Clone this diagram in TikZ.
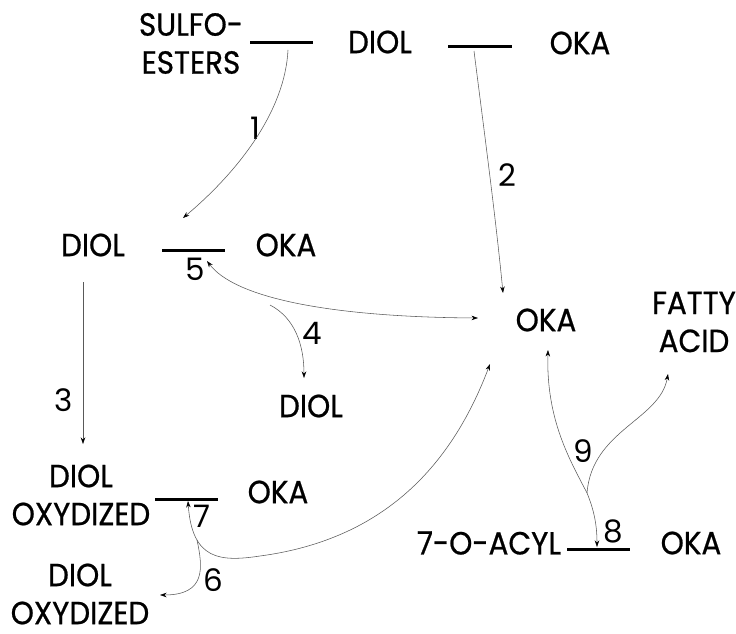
\documentclass[tikz,border=0pt]{standalone}
\usepackage{fontspec}
\setmainfont{Poppins}
\newfontfamily\labelfont{Poppins}[FakeBold=0.7,FakeStretch=0.92]
\usetikzlibrary{arrows.meta}
\begin{document}
\begin{tikzpicture}[x=1pt,y=-1pt,
  lbl/.style={font=\labelfont\fontsize{32}{38}\selectfont, inner sep=0pt, align=center},
  num/.style={font=\fontsize{31}{34}\selectfont, inner sep=0pt},
  bond/.style={line width=3pt},
  link/.style={draw=black!65, line width=0.55pt},
  tipend/.style={-{Stealth[length=6.5pt,width=4.5pt,color=black]}},
  tipboth/.style={{Stealth[length=6.5pt,width=4.5pt,color=black]}-{Stealth[length=6.5pt,width=4.5pt,color=black]}},
]
\path[use as bounding box] (0,0) rectangle (736,634);

% compounds
\node[lbl] (sulfo) at (191,43.5) {SULFO-\\ESTERS};
\node[lbl] (diolA) at (380,42) {DIOL};
\node[lbl] (okaA)  at (580,43) {OKA};
\node[lbl] (diolB) at (93,245) {DIOL};
\node[lbl] (okaB)  at (286,245) {OKA};
\node[lbl] (okaC)  at (546,320) {OKA};
\node[lbl] (fatty) at (694,322) {FATTY\\ACID};
\node[lbl] (diolC) at (311,406) {DIOL};
\node[lbl] (oxyA)  at (81,495) {DIOL\\OXYDIZED};
\node[lbl] (okaD)  at (278,492) {OKA};
\node[lbl] (oxyB)  at (80,594) {DIOL\\OXYDIZED};
\node[lbl] (acyl)  at (489,543) {7-O-ACYL};
\node[lbl] (okaE)  at (691,543) {OKA};

% bonds
\coordinate (b1l) at (250,43);  \coordinate (b1r) at (313,43);
\coordinate (b2l) at (448,47);  \coordinate (b2r) at (512,47);
\coordinate (b3l) at (162,250); \coordinate (b3r) at (225,250);
\coordinate (b4l) at (155,499); \coordinate (b4r) at (218,499);
\coordinate (b5l) at (567,549); \coordinate (b5r) at (630,549);
\draw[bond] (b1l) -- (b1r);
\draw[bond] (b2l) -- (b2r);
\draw[bond] (b3l) -- (b3r);
\draw[bond] (b4l) -- (b4r);
\draw[bond] (b5l) -- (b5r);

% reaction numbers
\node[num] (n1) at (255,128) {1};
\node[num] (n2) at (507,175) {2};
\node[num] (n3) at (64,400) {3};
\node[num] (n4) at (312,333) {4};
\node[num] (n5) at (195,269) {5};
\node[num] (n6) at (213,580) {6};
\node[num] (n7) at (202,516) {7};
\node[num] (n8) at (613,531) {8};
\node[num] (n9) at (583,451) {9};

% connector end points
\coordinate (s1) at (288,50);
\coordinate (t1) at (183,218);
\coordinate (s2) at (474,51);
\coordinate (t2) at (503,293);
\coordinate (s3) at (83,282);
\coordinate (t3) at (83,444);
\coordinate (t5) at (207,261);
\coordinate (t5b) at (478,318);
\coordinate (j4) at (270,305);
\coordinate (t4) at (304,378);
\coordinate (t7) at (188,501);
\coordinate (t7b) at (490,364);
\coordinate (j6) at (197,540);
\coordinate (t6) at (160,595);
\coordinate (j9) at (587,493);
\coordinate (t9a) at (548,350);
\coordinate (t9b) at (668,374);
\coordinate (t8) at (597,547);

% reactions
\draw[link,tipend] (s1) .. controls (285,110) and (240,170) .. (t1);
\draw[link,tipend] (s2) .. controls (484,130) and (496,220) .. (t2);
\draw[link,tipend] (s3) -- (t3);
\draw[link,tipboth] (t5) .. controls (235,298) and (330,317) .. (t5b);
\draw[link,tipend] (j4) .. controls (295,318) and (304,345) .. (t4);
\draw[link,tipboth] (t7) .. controls (192,560) and (220,562) .. (260,556)
                         .. controls (380,540) and (450,470) .. (t7b);
\draw[link,tipend] (j6) .. controls (203,568) and (206,595) .. (t6);
\draw[link,tipend] (j9) .. controls (570,460) and (546,420) .. (t9a);
\draw[link,tipend] (j9) .. controls (592,430) and (660,420) .. (t9b);
\draw[link,tipend] (j9) .. controls (594,510) and (597,525) .. (t8);
\end{tikzpicture}
\end{document}
